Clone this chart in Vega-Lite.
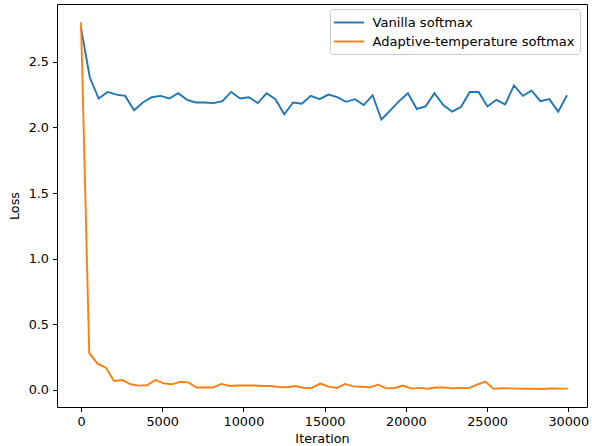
{
  "$schema": "https://vega.github.io/schema/vega-lite/v6.json",
  "width": 530,
  "height": 403,
  "autosize": {"type": "none"},
  "padding": {"left": 57, "top": 4, "right": 5, "bottom": 39},
  "background": "white",
  "config": {
    "font": "DejaVu Sans",
    "view": {"stroke": "black", "strokeWidth": 1},
    "axis": {
      "grid": false,
      "domain": false,
      "tickColor": "black",
      "tickSize": 4.5,
      "tickWidth": 1,
      "labelFont": "DejaVu Sans",
      "labelFontSize": 12.8,
      "labelColor": "black",
      "labelPadding": 4,
      "titleFont": "DejaVu Sans",
      "titleFontSize": 12.8,
      "titleFontWeight": "normal",
      "titleColor": "black"
    }
  },
  "data": {
    "values": [
      {"iter": 0, "loss": 2.757, "series": "Vanilla softmax"},
      {"iter": 544, "loss": 2.38, "series": "Vanilla softmax"},
      {"iter": 1088, "loss": 2.22, "series": "Vanilla softmax"},
      {"iter": 1632, "loss": 2.27, "series": "Vanilla softmax"},
      {"iter": 2176, "loss": 2.25, "series": "Vanilla softmax"},
      {"iter": 2720, "loss": 2.24, "series": "Vanilla softmax"},
      {"iter": 3264, "loss": 2.13, "series": "Vanilla softmax"},
      {"iter": 3808, "loss": 2.19, "series": "Vanilla softmax"},
      {"iter": 4352, "loss": 2.23, "series": "Vanilla softmax"},
      {"iter": 4896, "loss": 2.24, "series": "Vanilla softmax"},
      {"iter": 5440, "loss": 2.22, "series": "Vanilla softmax"},
      {"iter": 5984, "loss": 2.26, "series": "Vanilla softmax"},
      {"iter": 6528, "loss": 2.21, "series": "Vanilla softmax"},
      {"iter": 7072, "loss": 2.19, "series": "Vanilla softmax"},
      {"iter": 7616, "loss": 2.19, "series": "Vanilla softmax"},
      {"iter": 8160, "loss": 2.185, "series": "Vanilla softmax"},
      {"iter": 8704, "loss": 2.2, "series": "Vanilla softmax"},
      {"iter": 9248, "loss": 2.27, "series": "Vanilla softmax"},
      {"iter": 9792, "loss": 2.22, "series": "Vanilla softmax"},
      {"iter": 10336, "loss": 2.23, "series": "Vanilla softmax"},
      {"iter": 10880, "loss": 2.185, "series": "Vanilla softmax"},
      {"iter": 11424, "loss": 2.26, "series": "Vanilla softmax"},
      {"iter": 11968, "loss": 2.215, "series": "Vanilla softmax"},
      {"iter": 12512, "loss": 2.1, "series": "Vanilla softmax"},
      {"iter": 13056, "loss": 2.19, "series": "Vanilla softmax"},
      {"iter": 13600, "loss": 2.18, "series": "Vanilla softmax"},
      {"iter": 14144, "loss": 2.24, "series": "Vanilla softmax"},
      {"iter": 14688, "loss": 2.215, "series": "Vanilla softmax"},
      {"iter": 15232, "loss": 2.25, "series": "Vanilla softmax"},
      {"iter": 15776, "loss": 2.23, "series": "Vanilla softmax"},
      {"iter": 16320, "loss": 2.195, "series": "Vanilla softmax"},
      {"iter": 16864, "loss": 2.215, "series": "Vanilla softmax"},
      {"iter": 17408, "loss": 2.17, "series": "Vanilla softmax"},
      {"iter": 17952, "loss": 2.245, "series": "Vanilla softmax"},
      {"iter": 18496, "loss": 2.06, "series": "Vanilla softmax"},
      {"iter": 19040, "loss": 2.13, "series": "Vanilla softmax"},
      {"iter": 19584, "loss": 2.2, "series": "Vanilla softmax"},
      {"iter": 20128, "loss": 2.26, "series": "Vanilla softmax"},
      {"iter": 20672, "loss": 2.14, "series": "Vanilla softmax"},
      {"iter": 21216, "loss": 2.16, "series": "Vanilla softmax"},
      {"iter": 21760, "loss": 2.26, "series": "Vanilla softmax"},
      {"iter": 22304, "loss": 2.17, "series": "Vanilla softmax"},
      {"iter": 22848, "loss": 2.12, "series": "Vanilla softmax"},
      {"iter": 23392, "loss": 2.155, "series": "Vanilla softmax"},
      {"iter": 23936, "loss": 2.27, "series": "Vanilla softmax"},
      {"iter": 24480, "loss": 2.27, "series": "Vanilla softmax"},
      {"iter": 25024, "loss": 2.16, "series": "Vanilla softmax"},
      {"iter": 25568, "loss": 2.21, "series": "Vanilla softmax"},
      {"iter": 26112, "loss": 2.175, "series": "Vanilla softmax"},
      {"iter": 26656, "loss": 2.32, "series": "Vanilla softmax"},
      {"iter": 27200, "loss": 2.24, "series": "Vanilla softmax"},
      {"iter": 27744, "loss": 2.28, "series": "Vanilla softmax"},
      {"iter": 28288, "loss": 2.2, "series": "Vanilla softmax"},
      {"iter": 28832, "loss": 2.215, "series": "Vanilla softmax"},
      {"iter": 29376, "loss": 2.12, "series": "Vanilla softmax"},
      {"iter": 29920, "loss": 2.245, "series": "Vanilla softmax"},
      {"iter": 0, "loss": 2.8, "series": "Adaptive-temperature softmax"},
      {"iter": 508, "loss": 0.28, "series": "Adaptive-temperature softmax"},
      {"iter": 1016, "loss": 0.2, "series": "Adaptive-temperature softmax"},
      {"iter": 1524, "loss": 0.17, "series": "Adaptive-temperature softmax"},
      {"iter": 2032, "loss": 0.069, "series": "Adaptive-temperature softmax"},
      {"iter": 2540, "loss": 0.076, "series": "Adaptive-temperature softmax"},
      {"iter": 3048, "loss": 0.043, "series": "Adaptive-temperature softmax"},
      {"iter": 3556, "loss": 0.033, "series": "Adaptive-temperature softmax"},
      {"iter": 4064, "loss": 0.036, "series": "Adaptive-temperature softmax"},
      {"iter": 4572, "loss": 0.076, "series": "Adaptive-temperature softmax"},
      {"iter": 5080, "loss": 0.05, "series": "Adaptive-temperature softmax"},
      {"iter": 5588, "loss": 0.043, "series": "Adaptive-temperature softmax"},
      {"iter": 6096, "loss": 0.061, "series": "Adaptive-temperature softmax"},
      {"iter": 6604, "loss": 0.058, "series": "Adaptive-temperature softmax"},
      {"iter": 7112, "loss": 0.018, "series": "Adaptive-temperature softmax"},
      {"iter": 7620, "loss": 0.018, "series": "Adaptive-temperature softmax"},
      {"iter": 8128, "loss": 0.018, "series": "Adaptive-temperature softmax"},
      {"iter": 8636, "loss": 0.046, "series": "Adaptive-temperature softmax"},
      {"iter": 9144, "loss": 0.03, "series": "Adaptive-temperature softmax"},
      {"iter": 9652, "loss": 0.034, "series": "Adaptive-temperature softmax"},
      {"iter": 10160, "loss": 0.035, "series": "Adaptive-temperature softmax"},
      {"iter": 10668, "loss": 0.034, "series": "Adaptive-temperature softmax"},
      {"iter": 11176, "loss": 0.03, "series": "Adaptive-temperature softmax"},
      {"iter": 11684, "loss": 0.03, "series": "Adaptive-temperature softmax"},
      {"iter": 12192, "loss": 0.022, "series": "Adaptive-temperature softmax"},
      {"iter": 12700, "loss": 0.02, "series": "Adaptive-temperature softmax"},
      {"iter": 13208, "loss": 0.03, "series": "Adaptive-temperature softmax"},
      {"iter": 13716, "loss": 0.015, "series": "Adaptive-temperature softmax"},
      {"iter": 14224, "loss": 0.017, "series": "Adaptive-temperature softmax"},
      {"iter": 14732, "loss": 0.048, "series": "Adaptive-temperature softmax"},
      {"iter": 15240, "loss": 0.025, "series": "Adaptive-temperature softmax"},
      {"iter": 15748, "loss": 0.015, "series": "Adaptive-temperature softmax"},
      {"iter": 16256, "loss": 0.046, "series": "Adaptive-temperature softmax"},
      {"iter": 16764, "loss": 0.027, "series": "Adaptive-temperature softmax"},
      {"iter": 17272, "loss": 0.024, "series": "Adaptive-temperature softmax"},
      {"iter": 17780, "loss": 0.02, "series": "Adaptive-temperature softmax"},
      {"iter": 18288, "loss": 0.04, "series": "Adaptive-temperature softmax"},
      {"iter": 18796, "loss": 0.012, "series": "Adaptive-temperature softmax"},
      {"iter": 19304, "loss": 0.015, "series": "Adaptive-temperature softmax"},
      {"iter": 19812, "loss": 0.033, "series": "Adaptive-temperature softmax"},
      {"iter": 20320, "loss": 0.01, "series": "Adaptive-temperature softmax"},
      {"iter": 20828, "loss": 0.016, "series": "Adaptive-temperature softmax"},
      {"iter": 21336, "loss": 0.009, "series": "Adaptive-temperature softmax"},
      {"iter": 21844, "loss": 0.018, "series": "Adaptive-temperature softmax"},
      {"iter": 22352, "loss": 0.019, "series": "Adaptive-temperature softmax"},
      {"iter": 22860, "loss": 0.012, "series": "Adaptive-temperature softmax"},
      {"iter": 23368, "loss": 0.016, "series": "Adaptive-temperature softmax"},
      {"iter": 23876, "loss": 0.014, "series": "Adaptive-temperature softmax"},
      {"iter": 24384, "loss": 0.04, "series": "Adaptive-temperature softmax"},
      {"iter": 24892, "loss": 0.064, "series": "Adaptive-temperature softmax"},
      {"iter": 25400, "loss": 0.008, "series": "Adaptive-temperature softmax"},
      {"iter": 25908, "loss": 0.013, "series": "Adaptive-temperature softmax"},
      {"iter": 26416, "loss": 0.012, "series": "Adaptive-temperature softmax"},
      {"iter": 26924, "loss": 0.01, "series": "Adaptive-temperature softmax"},
      {"iter": 27432, "loss": 0.009, "series": "Adaptive-temperature softmax"},
      {"iter": 27940, "loss": 0.009, "series": "Adaptive-temperature softmax"},
      {"iter": 28448, "loss": 0.007, "series": "Adaptive-temperature softmax"},
      {"iter": 28956, "loss": 0.012, "series": "Adaptive-temperature softmax"},
      {"iter": 29464, "loss": 0.01, "series": "Adaptive-temperature softmax"},
      {"iter": 29972, "loss": 0.01, "series": "Adaptive-temperature softmax"}
    ]
  },
  "mark": {"type": "line", "strokeWidth": 1.9, "clip": true},
  "encoding": {
    "x": {
      "field": "iter",
      "type": "quantitative",
      "title": "Iteration",
      "scale": {"domain": [-1478, 31152], "nice": false, "zero": false},
      "axis": {"values": [0, 5000, 10000, 15000, 20000, 25000, 30000], "format": "d", "titlePadding": 4, "labelFlush": false}
    },
    "y": {
      "field": "loss",
      "type": "quantitative",
      "title": "Loss",
      "scale": {"domain": [-0.13, 2.94], "nice": false, "zero": false},
      "axis": {"values": [0, 0.5, 1, 1.5, 2, 2.5], "format": ".1f", "titlePadding": 7}
    },
    "color": {
      "field": "series",
      "type": "nominal",
      "scale": {"domain": ["Vanilla softmax", "Adaptive-temperature softmax"], "range": ["#1f77b4", "#ff7f0e"]},
      "legend": {
        "title": null,
        "orient": "none",
        "legendX": 273,
        "legendY": 5,
        "padding": 5,
        "strokeColor": "#cccccc",
        "fillColor": "white",
        "cornerRadius": 3,
        "symbolType": "M-2,0H2",
        "symbolSize": 225,
        "symbolOffset": 5.5,
        "symbolStrokeWidth": 1.9,
        "symbolFillColor": "transparent",
        "labelFont": "DejaVu Sans",
        "labelFontSize": 13.1,
        "labelColor": "black",
        "labelOffset": 15,
        "labelLimit": 400,
        "rowPadding": 3
      }
    }
  }
}
